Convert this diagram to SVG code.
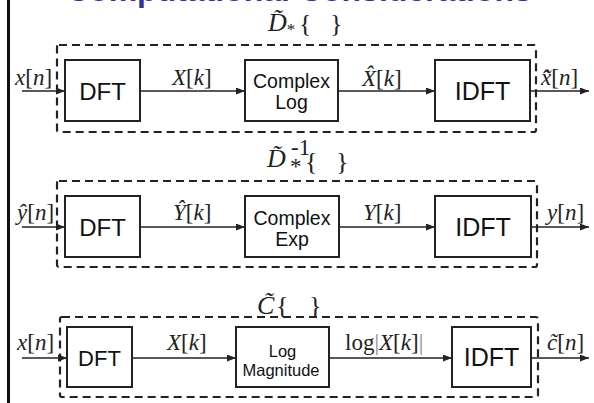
<svg xmlns="http://www.w3.org/2000/svg" width="594" height="403" viewBox="0 0 594 403">
  <defs>
    <marker id="ah" markerUnits="userSpaceOnUse" markerWidth="9" markerHeight="7" refX="9" refY="3.5" orient="auto">
      <path d="M0,0 L9,3.5 L0,7 z" fill="#222"/>
    </marker>
    <style>
      .box{fill:#fff;stroke:#222;stroke-width:2}
      .dash{fill:none;stroke:#222;stroke-width:2.2;stroke-dasharray:8 5}
      .wire{stroke:#222;stroke-width:1.6;fill:none;marker-end:url(#ah)}
      .blk{font-family:"Liberation Sans",Arial,sans-serif;fill:#111;text-anchor:middle}
      .math{font-family:"Liberation Serif","Times New Roman",serif;font-size:23px;fill:#222}
      .big{font-family:"Liberation Serif","Times New Roman",serif;font-size:26px;fill:#222}
      .it{font-style:italic}
      .title{font-family:"Liberation Sans",Arial,sans-serif;font-weight:bold;font-size:32px;fill:#333399}
    </style>
  </defs>

  <rect width="594" height="403" fill="#fff"/>
  <!-- slide margin rule -->
  <rect x="7" y="0" width="3" height="403" fill="#111"/>
  <text class="title" x="66" y="1">Computational Considerations</text>

  <!-- system outlines -->
  <g id="systems">
    <rect class="dash" x="57" y="45" width="479" height="87" rx="2"/>
    <rect class="dash" x="57" y="181" width="480" height="86" rx="2"/>
    <rect class="dash" x="60" y="317" width="478" height="80" rx="2"/>
  </g>

  <!-- system names -->
  <g id="name-complex-cepstrum">
    <text class="big" x="268" y="31"><tspan class="it">D̃</tspan><tspan font-size="17" dy="4">*</tspan><tspan x="299" dy="-3">{</tspan><tspan x="330">}</tspan></text>
  </g>
  <g id="name-inverse">
    <text class="big" x="267" y="167"><tspan class="it">D̃</tspan></text>
    <text class="math" x="291" y="155" font-size="12">-1</text>
    <text class="math" x="290" y="174" font-size="17">*</text>
    <text class="big" x="305" y="170">{<tspan x="336">}</tspan></text>
  </g>
  <g id="name-real-cepstrum">
    <text class="big" x="257" y="314"><tspan class="it">C̃</tspan><tspan x="276">{</tspan><tspan x="309">}</tspan></text>
  </g>

  <!-- connectors -->
  <g id="connectors">
    <line class="wire" x1="22" y1="91" x2="65" y2="91"/>
    <line class="wire" x1="140" y1="91" x2="245" y2="91"/>
    <line class="wire" x1="338" y1="91" x2="435" y2="91"/>
    <line class="wire" x1="530" y1="91" x2="589" y2="91"/>

    <line class="wire" x1="22" y1="227" x2="65" y2="227"/>
    <line class="wire" x1="140" y1="227" x2="245" y2="227"/>
    <line class="wire" x1="339" y1="227" x2="435" y2="227"/>
    <line class="wire" x1="531" y1="227" x2="589" y2="227"/>

    <line class="wire" x1="22" y1="358" x2="67" y2="358"/>
    <line class="wire" x1="132" y1="358" x2="236" y2="358"/>
    <line class="wire" x1="329" y1="358" x2="452" y2="358"/>
    <line class="wire" x1="531" y1="358" x2="589" y2="358"/>
  </g>

  <!-- signal labels -->
  <g id="signal-labels" class="math">
    <text x="15" y="85"><tspan class="it">x</tspan>[<tspan class="it">n</tspan>]</text>
    <text x="172" y="85"><tspan class="it">X</tspan>[<tspan class="it">k</tspan>]</text>
    <text x="362" y="86"><tspan class="it">X̂</tspan>[<tspan class="it">k</tspan>]</text>
    <text x="541" y="85"><tspan class="it">x̂̃</tspan>[<tspan class="it">n</tspan>]</text>

    <text x="17" y="220"><tspan class="it">ŷ</tspan>[<tspan class="it">n</tspan>]</text>
    <text x="173" y="220"><tspan class="it">Ŷ</tspan>[<tspan class="it">k</tspan>]</text>
    <text x="363" y="220"><tspan class="it">Y</tspan>[<tspan class="it">k</tspan>]</text>
    <text x="547" y="220"><tspan class="it">y</tspan>[<tspan class="it">n</tspan>]</text>

    <text x="17" y="350"><tspan class="it">x</tspan>[<tspan class="it">n</tspan>]</text>
    <text x="167" y="350"><tspan class="it">X</tspan>[<tspan class="it">k</tspan>]</text>
    <text x="345" y="350">log<tspan fill="#888">|</tspan><tspan class="it">X</tspan>[<tspan class="it">k</tspan>]<tspan fill="#888">|</tspan></text>
    <text x="547" y="350"><tspan class="it">c̃</tspan>[<tspan class="it">n</tspan>]</text>
  </g>

  <!-- row 1: complex cepstrum -->
  <g id="dft-1">
    <rect class="box" x="65" y="60" width="75" height="61"/>
    <text class="blk" x="102.5" y="100" font-size="24">DFT</text>
  </g>
  <g id="complex-log">
    <rect class="box" x="245" y="60" width="93" height="61"/>
    <text class="blk" x="291.5" y="88" font-size="19.5">Complex</text>
    <text class="blk" x="291.5" y="109" font-size="19.5">Log</text>
  </g>
  <g id="idft-1">
    <rect class="box" x="435" y="60" width="95" height="61"/>
    <text class="blk" x="482.5" y="100" font-size="25">IDFT</text>
  </g>

  <!-- row 2: inverse -->
  <g id="dft-2">
    <rect class="box" x="65" y="196" width="75" height="61"/>
    <text class="blk" x="102.5" y="236" font-size="24">DFT</text>
  </g>
  <g id="complex-exp">
    <rect class="box" x="245" y="196" width="94" height="61"/>
    <text class="blk" x="292" y="225" font-size="19.5">Complex</text>
    <text class="blk" x="292" y="246" font-size="19.5">Exp</text>
  </g>
  <g id="idft-2">
    <rect class="box" x="435" y="196" width="96" height="61"/>
    <text class="blk" x="483" y="236" font-size="25">IDFT</text>
  </g>

  <!-- row 3: real cepstrum -->
  <g id="dft-3">
    <rect class="box" x="67" y="327" width="65" height="60"/>
    <text class="blk" x="99.5" y="366" font-size="22">DFT</text>
  </g>
  <g id="log-magnitude">
    <rect class="box" x="236" y="327" width="93" height="60"/>
    <text class="blk" x="282.5" y="357" font-size="16.5">Log</text>
    <text class="blk" x="281" y="376" font-size="16.5">Magnitude</text>
  </g>
  <g id="idft-3">
    <rect class="box" x="452" y="327" width="79" height="60"/>
    <text class="blk" x="491.5" y="366" font-size="25">IDFT</text>
  </g>
</svg>
